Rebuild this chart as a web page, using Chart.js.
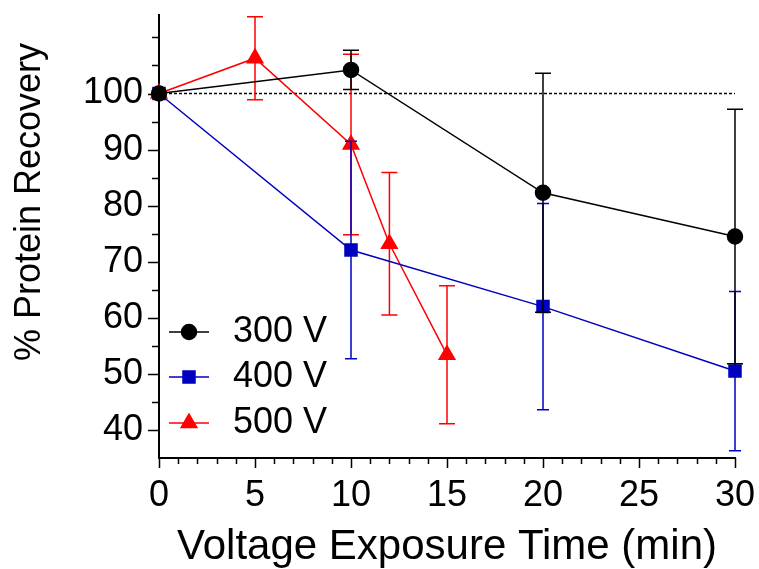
<!DOCTYPE html>
<html>
<head>
<meta charset="utf-8">
<title>Protein Recovery</title>
<script src="https://cdn.jsdelivr.net/npm/chart.js@4.4.0/dist/chart.umd.min.js"></script>
<style>
  html, body { margin: 0; padding: 0; background: #fff; }
  #wrap { width: 759px; height: 569px; }
</style>
</head>
<body>
<div id="wrap"><canvas id="chart" width="759" height="569"></canvas></div>
<script>
// valores
const times300 = [0, 10, 20, 30];
const rec300 = [100, 104.2, 82.3, 74.5];
const sd300 = [0, 3.5, 21.3, 22.7];

const times400 = [0, 10, 20, 30];
const rec400 = [100, 72.1, 62.0, 50.5];
const sd400 = [0, 19.4, 18.4, 14.2];

const times500 = [0, 5, 10, 12, 15];
const rec500 = [100, 106.3, 90.9, 73.2, 53.4];
const sd500 = [0, 7.4, 16.1, 12.7, 12.3];

const seriesNames = ["300 V", "400 V", "500 V"];
const xTickVals = [0, 5, 10, 15, 20, 25, 30];
const yTickVals = [40, 50, 60, 70, 80, 90, 100];
const baseline = 100;

const FONT = "'Liberation Sans', Arial, sans-serif";

function toPoints(xs, ys) {
  return xs.map(function (x, i) { return { x: x, y: ys[i] }; });
}

// barras de erro (media +/- DP), desenhadas antes de cada serie
const errorBars = {
  id: "errorBars",
  beforeDatasetDraw: function (chart, args) {
    var ds = chart.data.datasets[args.index];
    if (!ds.sd) return;
    var ctx = chart.ctx;
    var xs = chart.scales.x, ys = chart.scales.y;
    ctx.save();
    ctx.strokeStyle = ds.borderColor;
    ctx.lineWidth = 1.5;
    ds.data.forEach(function (p, i) {
      var e = ds.sd[i];
      if (!e) return;
      var px = xs.getPixelForValue(p.x);
      var top = ys.getPixelForValue(p.y + e);
      var bot = ys.getPixelForValue(p.y - e);
      var w = ds.capHalf;
      ctx.beginPath();
      ctx.moveTo(px, top); ctx.lineTo(px, bot);
      ctx.moveTo(px - w, top); ctx.lineTo(px + w, top);
      ctx.moveTo(px - w, bot); ctx.lineTo(px + w, bot);
      ctx.stroke();
    });
    ctx.restore();
  }
};

// marcas dos eixos (maiores e menores), titulo do eixo y e legenda
const axisExtras = {
  id: "axisExtras",
  afterDraw: function (chart) {
    var ctx = chart.ctx;
    var xs = chart.scales.x, ys = chart.scales.y;
    var area = chart.chartArea;
    ctx.save();
    ctx.strokeStyle = "#000";
    ctx.lineWidth = 1.5;
    ctx.beginPath();
    for (var v = 0; v <= 30; v++) {
      var px = Math.round(xs.getPixelForValue(v)) + 0.5;
      var len = v % 5 === 0 ? 10 : 6;
      ctx.moveTo(px, area.bottom); ctx.lineTo(px, area.bottom + len);
    }
    for (var u = 40; u <= 110; u += 5) {
      var py = Math.round(ys.getPixelForValue(u)) + 0.5;
      var l2 = (u % 10 === 0 && u <= 100) ? 11 : 7;
      ctx.moveTo(area.left, py); ctx.lineTo(area.left - l2, py);
    }
    ctx.stroke();

    // titulo do eixo y
    ctx.fillStyle = "#000";
    ctx.font = "36px " + FONT;
    ctx.textAlign = "center";
    ctx.textBaseline = "middle";
    ctx.translate(30, 202);
    ctx.rotate(-Math.PI / 2);
    ctx.fillText("% Protein Recovery", 0, 0);
    ctx.restore();

    // legenda dentro da area do grafico
    ctx.save();
    var rows = [332, 377, 423];
    [0, 1, 2].forEach(function (k, i) {
      var ds = chart.data.datasets[k];
      var y = rows[i];
      ctx.strokeStyle = ds.borderColor;
      ctx.lineWidth = 1.5;
      ctx.beginPath();
      ctx.moveTo(169, y); ctx.lineTo(209, y);
      ctx.stroke();
      ctx.fillStyle = ds.pointBackgroundColor;
      ctx.strokeStyle = ds.borderColor;
      Chart.helpers.drawPoint(ctx, { pointStyle: ds.pointStyle, radius: ds.pointRadius, borderWidth: 1 }, 189, y);
      ctx.fillStyle = "#000";
      ctx.font = "36px " + FONT;
      ctx.textAlign = "left";
      ctx.textBaseline = "middle";
      ctx.fillText(ds.label, 233, y);
    });
    ctx.restore();
  }
};

var ctx = document.getElementById("chart").getContext("2d");
var myChart = new Chart(ctx, {
  type: "scatter",
  data: {
    datasets: [
      {
        label: seriesNames[0],
        data: toPoints(times300, rec300),
        sd: sd300,
        capHalf: 8,
        showLine: true,
        borderColor: "#000000",
        backgroundColor: "#000000",
        pointBackgroundColor: "#000000",
        pointStyle: "circle",
        pointRadius: 7.5,
        pointHoverRadius: 7.5,
        borderWidth: 1.5,
        clip: false,
        order: 1,
      },
      {
        label: seriesNames[1],
        data: toPoints(times400, rec400),
        sd: sd400,
        capHalf: 6,
        showLine: true,
        borderColor: "#0000C0",
        backgroundColor: "#0000C0",
        pointBackgroundColor: "#0000C0",
        pointStyle: "rect",
        pointRadius: 8.5,
        pointHoverRadius: 8.5,
        borderWidth: 1.5,
        clip: false,
        order: 2,
      },
      {
        label: seriesNames[2],
        data: toPoints(times500, rec500),
        sd: sd500,
        capHalf: 8,
        showLine: true,
        borderColor: "#FF0000",
        backgroundColor: "#FF0000",
        pointBackgroundColor: "#FF0000",
        pointStyle: "triangle",
        pointRadius: 9,
        pointHoverRadius: 9,
        borderWidth: 1.5,
        clip: false,
        order: 3,
      },
      {
        // linha de referencia em 100 %
        label: "ref",
        data: [{ x: 0, y: baseline }, { x: 30, y: baseline }],
        showLine: true,
        borderColor: "#000000",
        borderWidth: 1.5,
        borderDash: [3, 2],
        pointRadius: 0,
        order: 4,
      },
    ],
  },
  options: {
    responsive: false,
    animation: false,
    devicePixelRatio: 1,
    layout: { padding: { top: 15, right: 24, left: 0, bottom: 0 } },
    plugins: {
      legend: { display: false },
      tooltip: { enabled: false },
    },
    scales: {
      x: {
        type: "linear",
        min: 0,
        max: 30,
        afterBuildTicks: function (s) { s.ticks = xTickVals.map(function (v) { return { value: v }; }); },
        afterFit: function (s) { s.height = 111; s.paddingLeft = 0; s.paddingRight = 0; },
        grid: { display: false, drawTicks: false },
        border: { display: true, color: "#000", width: 2 },
        ticks: { color: "#000", padding: 16, maxRotation: 0, autoSkip: false, font: { family: FONT, size: 36 } },
        title: {
          display: true,
          text: "Voltage Exposure Time (min)",
          color: "#000",
          font: { family: FONT, size: 42, lineHeight: 1 },
          padding: { top: 0, bottom: 1 },
        },
      },
      y: {
        type: "linear",
        min: 35,
        max: 114,
        afterBuildTicks: function (s) { s.ticks = yTickVals.map(function (v) { return { value: v }; }); },
        afterFit: function (s) { s.width = 159; s.paddingTop = 0; s.paddingBottom = 0; },
        grid: { display: false, drawTicks: false },
        border: { display: true, color: "#000", width: 2 },
        ticks: { color: "#000", padding: 16, autoSkip: false, font: { family: FONT, size: 36 } },
      },
    },
  },
  plugins: [errorBars, axisExtras],
});
</script>
</body>
</html>
